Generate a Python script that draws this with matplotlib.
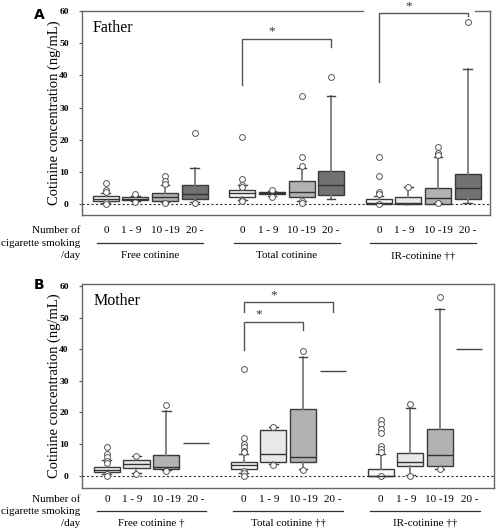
import matplotlib
matplotlib.use("Agg")
import matplotlib.pyplot as plt
import matplotlib.transforms as mtransforms

plt.rcParams['font.family'] = 'serif'
plt.rcParams['font.serif'] = ['Liberation Serif', 'DejaVu Serif']

# ---- data ----
smoke_groups = ["0", "1 - 9", "10 -19", "20 -"]
father_measures = ["Free cotinine", "Total cotinine", "IR-cotinine \u2020\u2020"]
mother_measures = ["Free cotinine \u2020", "Total cotinine \u2020\u2020", "IR-cotinine \u2020\u2020"]

# order: Free 0,1-9,10-19,20- | Total ... | IR ...
father_q1 = [1.0, 1.25, 0.8, 1.45, 2.2, 3.0, 2.1, 2.7, 0.0, 0.0, 0.1, 1.7]
father_med = [1.65, 1.65, 2.2, 3.0, 3.3, 3.3, 3.6, 5.8, 0.3, 0.3, 1.8, 4.9]
father_q3 = [2.5, 2.3, 3.5, 5.8, 4.3, 3.6, 7.3, 10.2, 1.7, 2.3, 5.0, 9.2]
father_lo = [0.4, 0.8, 0.6, 0.5, 1.2, 2.4, 1.1, 1.7, 0.1, 0.1, 0.2, 0.2]
father_hi = [3.3, 2.6, 5.8, 11.1, 5.9, 4.0, 11.1, 33.7, 2.5, 5.2, 14.5, 42.0]
father_out = [[6.6, 4.5, 3.9, 0.5, 0.1], [3.2, 0.7], [8.8, 7.1, 6.2, 0.4], [22.2, 0.4],
              [20.9, 7.8, 5.8, 5.2, 1.2, 0.8], [4.5, 2.3], [33.7, 14.5, 11.9, 1.1, 0.4], [39.5],
              [14.7, 8.8, 3.9, 3.2, 0.1], [5.2], [17.6, 15.9, 15.3, 0.2], [56.6]]

# None = only one subject -> drawn as a single line at the median value
mother_q1 = [1.05, 2.3, 2.1, None, 2.2, 4.2, 4.3, None, 0.0, 2.9, 3.1, None]
mother_med = [1.8, 3.7, 2.6, 10.2, 3.4, 6.8, 6.0, 33.1, 0.0, 4.4, 6.4, 40.2]
mother_q3 = [2.6, 5.0, 6.4, None, 4.4, 14.5, 21.0, None, 2.1, 7.3, 14.7, None]
mother_lo = [0.6, 1.0, 1.8, None, 1.0, 3.8, 2.2, None, 0.0, 0.3, 2.2, None]
mother_hi = [5.0, 6.1, 20.5, None, 6.7, 15.3, 37.6, None, 7.0, 21.3, 52.6, None]
mother_out = [[9.0, 6.9, 5.9, 4.5, 4.0, 0.5, 0.0], [6.1, 0.5], [22.2, 1.6], [],
              [33.7, 11.8, 10.0, 9.0, 7.9, 7.4, 1.6, 0.8, 0.0], [15.3, 3.4], [39.5, 1.8], [],
              [17.6, 16.3, 14.8, 13.4, 9.4, 8.4, 7.6, 0.0], [22.7, 0.0], [56.6, 2.0], []]

fills = ['#f8f8f8', '#e9e9e9', '#b2b2b2', '#727272']
group_start = [0, 4.62, 9.24]
positions = [g + i for g in group_start for i in range(4)]

W, H = 496, 531
fig = plt.figure(figsize=(W / 100, H / 100), dpi=100)


def fy(py):
    return 1 - py / H


def draw_panel(ax, q1, med, q3, lo, hi, out, measures, name, letter, ylim, xlim, rows_y,
               line_pad, brackets, frame_gap=None):
    stats, pos, cols = [], [], []
    for k in range(12):
        if q1[k] is None:
            ax.hlines(med[k], positions[k] - 0.44, positions[k] + 0.44, color='#444444', lw=1.0)
            continue
        stats.append(dict(med=med[k], q1=q1[k], q3=q3[k], whislo=lo[k], whishi=hi[k],
                          fliers=out[k]))
        pos.append(positions[k])
        cols.append(fills[k % 4])
    bp = ax.bxp(stats, positions=pos, widths=0.88, patch_artist=True, capwidths=0.3,
                boxprops=dict(edgecolor='#3a3a3a', linewidth=1.0),
                medianprops=dict(color='#333333', linewidth=1.0),
                whiskerprops=dict(color='#7a7a7a', linewidth=1.3),
                capprops=dict(color='#444444', linewidth=1.0),
                flierprops=dict(marker='o', markersize=4.2, markerfacecolor='white',
                                markeredgecolor='#555555', markeredgewidth=0.7))
    for patch, c in zip(bp['boxes'], cols):
        patch.set_facecolor(c)

    ax.axhline(0, color='#333333', lw=0.8, ls=(0, (2, 2)), zorder=0)
    ax.set_ylim(*ylim)
    ax.set_xlim(*xlim)
    ax.set_yticks(range(0, 61, 10))
    ax.set_yticklabels([str(v) for v in range(0, 61, 10)], fontsize=6.8, fontweight='bold')
    ax.set_xticks([])
    ax.tick_params(axis='y', direction='out', length=2.5, width=0.8, color='#555555', pad=7)
    for s in ax.spines.values():
        s.set_color('#666666')
        s.set_linewidth(1.0)
    ax.set_ylabel('Cotinine concentration (ng/mL)', fontsize=10.5, labelpad=-1)
    ax.text(0.027, 0.955, name, transform=ax.transAxes, fontsize=11.5, va='top', ha='left')

    if frame_gap is not None:
        ax.spines['top'].set_visible(False)
        tr = mtransforms.blended_transform_factory(ax.transData, ax.transAxes)
        ax.plot([xlim[0], frame_gap[0]], [1, 1], color='#666666', lw=1.0, transform=tr,
                clip_on=False)
        ax.plot([frame_gap[1], xlim[1]], [1, 1], color='#666666', lw=1.0, transform=tr,
                clip_on=False)

    for x0, x1, ytop, yl, yr in brackets:
        ax.plot([positions[x0], positions[x0], positions[x1], positions[x1]],
                [yl, ytop, ytop, yr], color='#555555', lw=1.0, clip_on=False)
        ax.text((positions[x0] + positions[x1]) / 2 - 0.5, ytop + 0.3, '*', ha='center',
                va='bottom', fontsize=9.5, color='#333333', clip_on=False)

    # category rows under the panel
    tr = mtransforms.blended_transform_factory(ax.transData, fig.transFigure)
    yt, yline, ylab = rows_y
    offs = [0, -0.13, 0, 0]
    for g, m in enumerate(measures):
        for i, lab in enumerate(smoke_groups):
            ax.text(positions[4 * g + i] + offs[i], fy(yt), lab, transform=tr, ha='center',
                    va='center', fontsize=8)
        ax.plot([positions[4 * g] - line_pad, positions[4 * g + 3] + line_pad],
                [fy(yline), fy(yline)], color='#333333', lw=0.9, transform=tr, clip_on=False)
        ax.text((positions[4 * g] + positions[4 * g + 3]) / 2, fy(ylab), m, transform=tr,
                ha='center', va='center', fontsize=8)
    fig.text(80 / W, fy(yt), 'Number of', ha='right', va='center', fontsize=8)
    fig.text(80 / W, fy(yline), 'cigarette smoking', ha='right', va='center', fontsize=8)
    fig.text(80 / W, fy(ylab), '/day', ha='right', va='center', fontsize=8)
    fig.text(34 / W, fy(rows_y[0] - 215), letter, ha='left', va='center', fontsize=10,
             fontweight='bold', family='DejaVu Sans')


axA = fig.add_axes([82 / W, fy(215), 408 / W, (215 - 11) / H])
draw_panel(axA, father_q1, father_med, father_q3, father_lo, father_hi, father_out,
           father_measures, 'Father', 'A', (-3.4, 60), (-0.81, 13.0), (230, 243, 256), 0.3,
           [(4, 7, 51.4, 36.9, 48.8), (8, 11, 59.4, 38.0, 58.3)], frame_gap=(8.71, 12.5))

axB = fig.add_axes([82 / W, fy(488), 412 / W, (488 - 284) / H])
draw_panel(axB, mother_q1, mother_med, mother_q3, mother_lo, mother_hi, mother_out,
           mother_measures, 'Mother', 'B', (-3.9, 60.6), (-0.84, 13.07), (500, 511, 523), 0.35,
           [(4, 7, 54.8, 51.9, 51.9), (4, 6, 48.7, 39.8, 46.1)])

fig.savefig('out.png', dpi=100)
